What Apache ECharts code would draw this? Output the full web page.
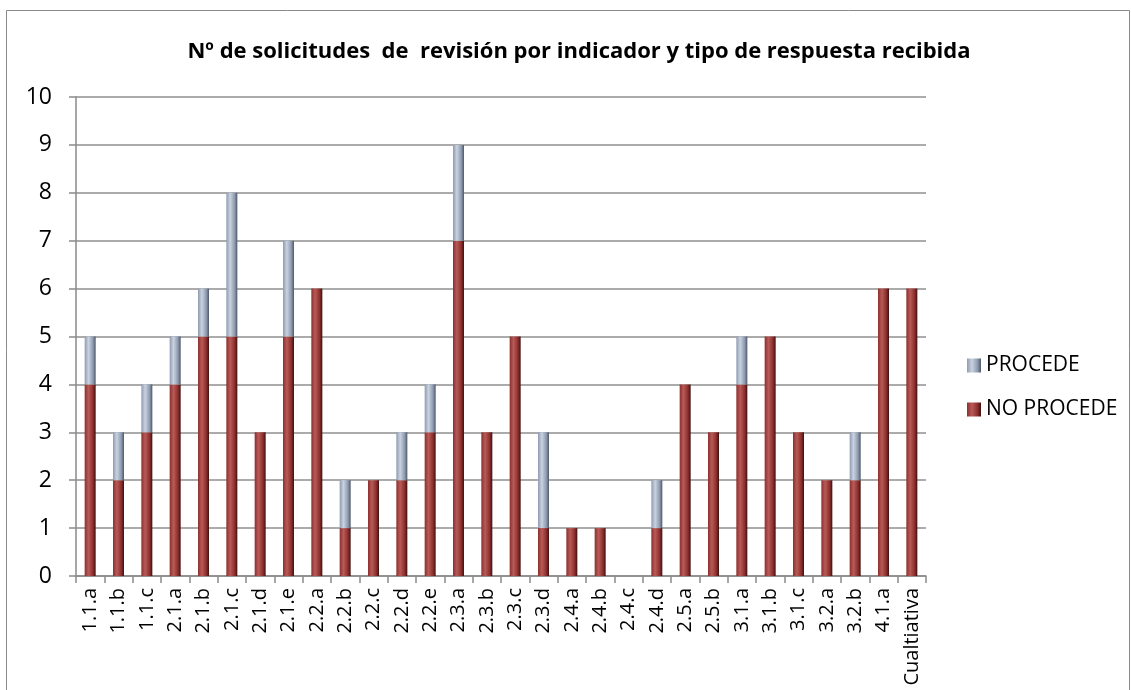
<!DOCTYPE html>
<html>
<head>
<meta charset="utf-8">
<script src="https://cdn.jsdelivr.net/npm/echarts@6/dist/echarts.min.js"></script>
<style>
    html, body { margin: 0; padding: 0; background: #fff; }
    #main { width: 1131px; height: 690px; }
</style>
</head>
<body>
<div id="main"></div>
<script>
    // categorias (indicadores)
    const indicadores = ['1.1.a','1.1.b','1.1.c','2.1.a','2.1.b','2.1.c','2.1.d','2.1.e','2.2.a','2.2.b',
        '2.2.c','2.2.d','2.2.e','2.3.a','2.3.b','2.3.c','2.3.d','2.4.a','2.4.b','2.4.c',
        '2.4.d','2.5.a','2.5.b','3.1.a','3.1.b','3.1.c','3.2.a','3.2.b','4.1.a','Cualtiativa']
    const noProcede = [4,2,3,4,5,5,3,5,6,1, 2,2,3,7,3,5,1,1,1,0, 1,4,3,4,5,3,2,2,6,6]
    const procede   = [1,1,1,1,1,3,0,2,0,1, 0,1,1,2,0,0,2,0,0,0, 1,0,0,1,0,0,0,1,0,0]
    const yTicks = [0,1,2,3,4,5,6,7,8,9,10]

    const font = '"Open Sans", sans-serif'

    // degradado horizontal para dar aspecto de cilindro
    function cyl(dark, mid, light) {
        return new echarts.graphic.LinearGradient(0, 0, 1, 0, [
            { offset: 0, color: mid },
            { offset: 0.35, color: light },
            { offset: 0.75, color: mid },
            { offset: 1, color: dark }
        ])
    }

    const myChart = echarts.init(document.getElementById('main'))

    const option = {
        animation: false,
        title: {
            text: 'Nº de solicitudes  de  revisión por indicador y tipo de respuesta recibida',
            left: 574,
            textAlign: 'center',
            top: 36,
            textStyle: { fontFamily: font, fontWeight: 'bold', fontSize: 22, color: '#000' }
        },
        graphic: [{
            type: 'rect',
            shape: { x: 6.5, y: 10.5, width: 1123, height: 690 },
            style: { fill: 'none', stroke: '#8a8a8a', lineWidth: 1 }
        }],
        legend: {
            orient: 'vertical',
            left: 962,
            top: 350,
            itemGap: 23,
            itemWidth: 14,
            itemHeight: 14,
            icon: 'rect',
            data: ['PROCEDE', 'NO PROCEDE'],
            textStyle: { fontFamily: font, fontSize: 21, color: '#000', padding: [0, 0, 0, 0] }
        },
        grid: { left: 76, right: 205, top: 97, bottom: 114 },
        xAxis: {
            type: 'category',
            data: indicadores,
            axisLine: { lineStyle: { color: '#8a8a8a', width: 1.5 } },
            axisTick: { show: true, length: 7, alignWithLabel: false, lineStyle: { color: '#8a8a8a', width: 1.5 } },
            axisLabel: { rotate: 90, interval: 0, fontFamily: font, fontSize: 20, color: '#000', margin: 12 }
        },
        yAxis: {
            type: 'value',
            min: yTicks[0],
            max: yTicks[yTicks.length - 1],
            interval: 1,
            axisLine: { show: true, lineStyle: { color: '#8a8a8a', width: 1.5 } },
            axisTick: { show: true, length: 7, lineStyle: { color: '#8a8a8a', width: 1.5 } },
            splitLine: { lineStyle: { color: '#8f8f8f', width: 1.5 } },
            axisLabel: { fontFamily: font, fontSize: 23, color: '#000', margin: 24 }
        },
        series: [
            {
                name: 'NO PROCEDE',
                type: 'bar',
                stack: 'total',
                data: noProcede,
                barWidth: 11,
                itemStyle: { color: cyl('#3e1010', '#8c2f2d', '#b85a58') }
            },
            {
                name: 'PROCEDE',
                type: 'bar',
                stack: 'total',
                data: procede,
                barWidth: 11,
                itemStyle: { color: cyl('#4e5868', '#8e9bb0', '#c9d2e0') }
            }
        ]
    }

    myChart.setOption(option)
</script>
</body>
</html>
